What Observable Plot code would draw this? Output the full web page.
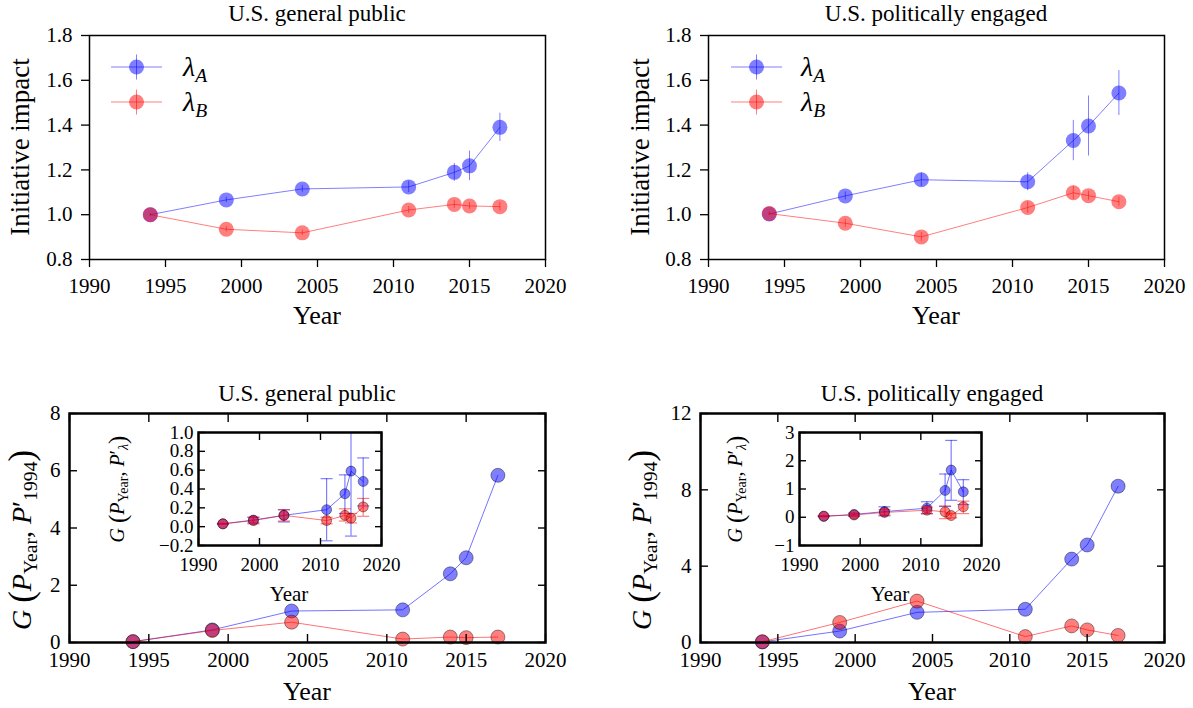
<!DOCTYPE html>
<html><head><meta charset="utf-8">
<script src="https://cdn.jsdelivr.net/npm/d3@7"></script>
<script src="https://cdn.jsdelivr.net/npm/@observablehq/plot@0.6"></script>
<style>
body{margin:0;background:#fff;}
#root{position:relative;width:1193px;height:708px;font-family:'Liberation Serif';color:#000;overflow:hidden;background:#fff}
#root svg text{font-family:'Liberation Serif'}
.lbl{position:absolute;white-space:nowrap;line-height:1;transform:translate(-50%,-50%);font-family:'Liberation Serif'}
.lft{position:absolute;white-space:nowrap;line-height:1;transform:translate(0,-50%);font-family:'Liberation Serif'}
.lbl sub,.lft sub{font-size:0.7em;vertical-align:-0.3em;line-height:0}
.big{font-size:1.25em;vertical-align:-0.05em}
</style></head><body><div id="root"></div>
<script>
// ---------------- data ----------------
const years = [1994, 1999, 2004, 2011, 2014, 2015, 2017];
const mainYearTicks = [1990, 1995, 2000, 2005, 2010, 2015, 2020];
const insetYearTicks = [1990, 2000, 2010, 2020];
const impactTicks = [0.8, 1.0, 1.2, 1.4, 1.6, 1.8];
const gTicksPublic = [0, 2, 4, 6, 8];
const gTicksEngaged = [0, 4, 8, 12];
const insetTicksPublic = [-0.2, 0, 0.2, 0.4, 0.6, 0.8, 1.0];
const insetTicksEngaged = [-1, 0, 1, 2, 3];

// Top-left: U.S. general public, initiative impact
const publicLambdaA = [1.000, 1.066, 1.115, 1.124, 1.189, 1.218, 1.390];
const publicLambdaAErr = [0.005, 0.012, 0.015, 0.025, 0.040, 0.066, 0.063];
const publicLambdaB = [1.000, 0.935, 0.919, 1.021, 1.046, 1.039, 1.036];
const publicLambdaBErr = [0.005, 0.012, 0.012, 0.015, 0.018, 0.015, 0.018];
// Top-right: U.S. politically engaged, initiative impact
const engagedLambdaA = [1.003, 1.084, 1.156, 1.147, 1.331, 1.396, 1.543];
const engagedLambdaAErr = [0.005, 0.018, 0.030, 0.040, 0.090, 0.134, 0.100];
const engagedLambdaB = [1.005, 0.962, 0.901, 1.032, 1.098, 1.085, 1.058];
const engagedLambdaBErr = [0.010, 0.018, 0.020, 0.025, 0.030, 0.020, 0.020];
// Bottom-left: G(P_Year, P'_1994), general public
const publicGA = [0.03, 0.44, 1.10, 1.14, 2.40, 2.96, 5.84];
const publicGB = [0.03, 0.42, 0.71, 0.12, 0.19, 0.17, 0.19];
// Bottom-right: politically engaged
const engagedGA = [0.03, 0.60, 1.58, 1.74, 4.37, 5.11, 8.19];
const engagedGB = [0.04, 1.05, 2.17, 0.31, 0.87, 0.66, 0.37];
// Inset (general public): G(P_Year, P'_lambda)
const publicInsetA = [0.03, 0.07, 0.12, 0.18, 0.35, 0.59, 0.48];
const publicInsetALo = [0.025, 0.04, 0.05, -0.15, 0.14, -0.10, 0.22];
const publicInsetAHi = [0.035, 0.10, 0.18, 0.51, 0.55, 1.20, 0.73];
const publicInsetB = [0.03, 0.065, 0.12, 0.065, 0.12, 0.09, 0.21];
const publicInsetBLo = [0.025, 0.03, 0.06, 0.03, 0.06, 0.04, 0.11];
const publicInsetBHi = [0.035, 0.10, 0.18, 0.10, 0.19, 0.14, 0.30];
// Inset (politically engaged)
const engagedInsetA = [0.03, 0.10, 0.20, 0.32, 0.95, 1.67, 0.90];
const engagedInsetALo = [0.02, 0.05, 0.05, 0.13, 0.38, 0.60, 0.45];
const engagedInsetAHi = [0.05, 0.15, 0.37, 0.55, 1.53, 2.72, 1.33];
const engagedInsetB = [0.04, 0.08, 0.17, 0.25, 0.19, 0.06, 0.37];
const engagedInsetBLo = [0.02, 0.03, 0.08, 0.12, -0.05, -0.02, 0.13];
const engagedInsetBHi = [0.06, 0.13, 0.27, 0.36, 0.40, 0.14, 0.57];

// ---------------- helpers ----------------
const BLUE = "#0000ff", RED = "#ff0000";
const FONT = "Liberation Serif";
const root = document.getElementById("root");

function rowsErr(vals, errs) {
  return years.map((year, i) => ({year, v: vals[i], lo: vals[i] - errs[i], hi: vals[i] + errs[i]}));
}
function rowsLoHi(vals, lo, hi) {
  return years.map((year, i) => ({year, v: vals[i], lo: lo ? lo[i] : null, hi: hi ? hi[i] : null}));
}
function geom(frame, box) {
  const [fl, ft, fr, fb] = frame, [sx, sy, w, h] = box;
  return {width: w, height: h, marginLeft: fl - sx, marginTop: ft - sy, marginRight: sx + w - fr, marginBottom: sy + h - fb};
}
function place(el, x, y) {
  el.style.position = "absolute"; el.style.left = x + "px"; el.style.top = y + "px";
  root.appendChild(el);
}
const baseStyle = {fontFamily: FONT, fontSize: "21px", background: "transparent", overflow: "visible", color: "black"};
const capSymbol = {draw(ctx) { ctx.moveTo(-6, 0); ctx.lineTo(6, 0); }};

function topSeries(data, color) {
  return [
    Plot.line(data, {x: "year", y: "v", stroke: color, strokeOpacity: 0.5, strokeWidth: 1}),
    Plot.ruleX(data, {x: "year", y1: "lo", y2: "hi", stroke: color, strokeOpacity: 0.5, strokeWidth: 1}),
    Plot.dot(data, {x: "year", y: "v", r: 7.5, fill: color, fillOpacity: 0.5, stroke: "none"})
  ];
}
function topPanel(frame, box, A, B) {
  const p = Plot.plot({
    ...geom(frame, box), style: baseStyle,
    x: {domain: [1990, 2020]}, y: {domain: [0.8, 1.8]},
    marks: [
      ...topSeries(A, BLUE), ...topSeries(B, RED),
      Plot.frame({stroke: "black", strokeWidth: 1.5}),
      Plot.axisX({ticks: mainYearTicks, tickSize: 8, tickPadding: 11, tickFormat: d => String(d), label: null, strokeWidth: 1.3, fontFamily: FONT, fontSize: 21}),
      Plot.axisY({ticks: impactTicks, tickSize: 8, tickPadding: 9, tickFormat: d3.format(".1f"), label: null, strokeWidth: 1.3, fontFamily: FONT, fontSize: 21})
    ]
  });
  place(p, box[0], box[1]);
}
function bottomSeries(data, color, r) {
  return [
    Plot.line(data, {x: "year", y: "v", stroke: color, strokeOpacity: 0.55, strokeWidth: 1}),
    Plot.dot(data, {x: "year", y: "v", r, fill: color, fillOpacity: 0.5, stroke: "black", strokeOpacity: 0.4, strokeWidth: 1})
  ];
}
function boxAxes(xt, yt, yfmt, ts, xpad, ypad, fs) {
  return [
    Plot.axisX({anchor: "bottom", ticks: xt, tickSize: -ts, tickPadding: xpad, tickFormat: d => String(d), label: null, strokeWidth: 1.4, fontFamily: FONT, fontSize: fs}),
    Plot.axisX({anchor: "top", ticks: xt, tickSize: -ts, tickFormat: () => "", label: null, strokeWidth: 1.4}),
    Plot.axisY({anchor: "left", ticks: yt, tickSize: -ts, tickPadding: ypad, tickFormat: yfmt, label: null, strokeWidth: 1.4, fontFamily: FONT, fontSize: fs}),
    Plot.axisY({anchor: "right", ticks: yt, tickSize: -ts, tickFormat: () => "", label: null, strokeWidth: 1.4})
  ];
}
function bottomPanel(frame, box, yDomain, yTicks, A, B) {
  const p = Plot.plot({
    ...geom(frame, box), style: baseStyle,
    x: {domain: [1990, 2020]}, y: {domain: yDomain},
    marks: [
      ...bottomSeries(A, BLUE, 7), ...bottomSeries(B, RED, 7),
      Plot.frame({stroke: "black", strokeWidth: 2.5}),
      ...boxAxes(mainYearTicks, yTicks, d => String(d), 8, 18, 17, 21)
    ]
  });
  place(p, box[0], box[1]);
}
function insetSeries(data, color) {
  return [
    Plot.ruleX(data, {x: "year", y1: "lo", y2: "hi", stroke: color, strokeOpacity: 0.5, strokeWidth: 1.2, clip: true}),
    Plot.dot(data, {x: "year", y: "lo", symbol: capSymbol, fill: "none", stroke: color, strokeOpacity: 0.5, strokeWidth: 1.2, clip: true}),
    Plot.dot(data, {x: "year", y: "hi", symbol: capSymbol, fill: "none", stroke: color, strokeOpacity: 0.5, strokeWidth: 1.2, clip: true}),
    ...bottomSeries(data, color, 5)
  ];
}
function insetPanel(frame, box, yDomain, yTicks, yFmt, A, B) {
  const p = Plot.plot({
    ...geom(frame, box), style: baseStyle,
    x: {domain: [1990, 2020]}, y: {domain: yDomain},
    marks: [
      Plot.frame({fill: "white", stroke: "none"}),
      ...insetSeries(A, BLUE), ...insetSeries(B, RED),
      Plot.frame({stroke: "black", strokeWidth: 2.5}),
      ...boxAxes(insetYearTicks, yTicks, yFmt, 7, 19, 12, 19)
    ]
  });
  place(p, box[0], box[1]);
}
function label(html, x, y, size, rot) {
  const d = document.createElement("div");
  d.className = "lbl";
  d.style.left = x + "px"; d.style.top = y + "px"; d.style.fontSize = size + "px";
  if (rot) d.style.transform = "translate(-50%,-50%) rotate(-90deg)";
  d.innerHTML = html;
  root.appendChild(d);
}
function leftLabel(html, x, y, size) {
  const d = document.createElement("div");
  d.className = "lft";
  d.style.left = x + "px"; d.style.top = y + "px"; d.style.fontSize = size + "px";
  d.innerHTML = html;
  root.appendChild(d);
}

// ---------------- panels ----------------
topPanel([89, 35, 545, 259], [0, 0, 596, 340],
  rowsErr(publicLambdaA, publicLambdaAErr), rowsErr(publicLambdaB, publicLambdaBErr));
topPanel([708, 35, 1164, 259], [597, 0, 596, 340],
  rowsErr(engagedLambdaA, engagedLambdaAErr), rowsErr(engagedLambdaB, engagedLambdaBErr));
bottomPanel([69, 413, 545, 642], [0, 354, 596, 354], [0, 8], gTicksPublic,
  rowsLoHi(publicGA), rowsLoHi(publicGB));
bottomPanel([700, 413, 1164, 642], [597, 354, 596, 354], [0, 12], gTicksEngaged,
  rowsLoHi(engagedGA), rowsLoHi(engagedGB));
insetPanel([198, 432, 381, 545], [140, 420, 260, 160], [-0.2, 1.0], insetTicksPublic, d3.format(".1f"),
  rowsLoHi(publicInsetA, publicInsetALo, publicInsetAHi), rowsLoHi(publicInsetB, publicInsetBLo, publicInsetBHi));
insetPanel([799, 432, 981, 545], [740, 420, 260, 160], [-1, 3], insetTicksEngaged, d3.format("d"),
  rowsLoHi(engagedInsetA, engagedInsetALo, engagedInsetAHi), rowsLoHi(engagedInsetB, engagedInsetBLo, engagedInsetBHi));

// ---------------- legends (top panels) ----------------
const lg = d3.create("svg").attr("width", 1193).attr("height", 708)
  .style("position", "absolute").style("left", "0px").style("top", "0px").style("pointer-events", "none");
function legendEntry(x0, y, color) {
  lg.append("line").attr("x1", x0).attr("x2", x0 + 51).attr("y1", y).attr("y2", y)
    .attr("stroke", color).attr("stroke-opacity", 0.5);
  lg.append("line").attr("x1", x0 + 25.5).attr("x2", x0 + 25.5).attr("y1", y - 12.5).attr("y2", y + 12.5)
    .attr("stroke", color).attr("stroke-opacity", 0.5);
  lg.append("circle").attr("cx", x0 + 25.5).attr("cy", y).attr("r", 7.5).attr("fill", color).attr("fill-opacity", 0.5);
}
legendEntry(111, 67, BLUE); legendEntry(111, 102, RED);
legendEntry(731, 67, BLUE); legendEntry(731, 102, RED);
root.appendChild(lg.node());
leftLabel('<i>λ</i><sub><i>A</i></sub>', 183, 67, 28);
leftLabel('<i>λ</i><sub><i>B</i></sub>', 183, 102, 28);
leftLabel('<i>λ</i><sub><i>A</i></sub>', 801, 67, 28);
leftLabel('<i>λ</i><sub><i>B</i></sub>', 801, 102, 28);

// ---------------- titles & axis labels ----------------
label("U.S. general public", 317, 13, 23);
label("U.S. politically engaged", 936, 13, 23);
label("U.S. general public", 307, 393, 23);
label("U.S. politically engaged", 932, 393, 23);
label("Year", 317, 316, 26);
label("Year", 936, 316, 26);
label("Year", 307, 692, 26);
label("Year", 932, 692, 26);
label("Initiative impact", 20, 147, 27, true);
label("Initiative impact", 640, 147, 27, true);
const gMain = '<i>G</i> <span class="big">(</span><i>P</i><sub>Year</sub>, <i>P</i>′<sub>1994</sub><span class="big">)</span>';
label(gMain, 21, 540, 28, true);
label(gMain, 641, 540, 28, true);
const gInset = '<i>G</i> <span class="big">(</span><i>P</i><sub>Year</sub>, <i>P</i>′<sub><i>λ</i></sub><span class="big">)</span>';
label(gInset, 117, 489, 20, true);
label(gInset, 735, 489, 20, true);
label("Year", 289, 594, 21);
label("Year", 890, 594, 21);
</script></body></html>
